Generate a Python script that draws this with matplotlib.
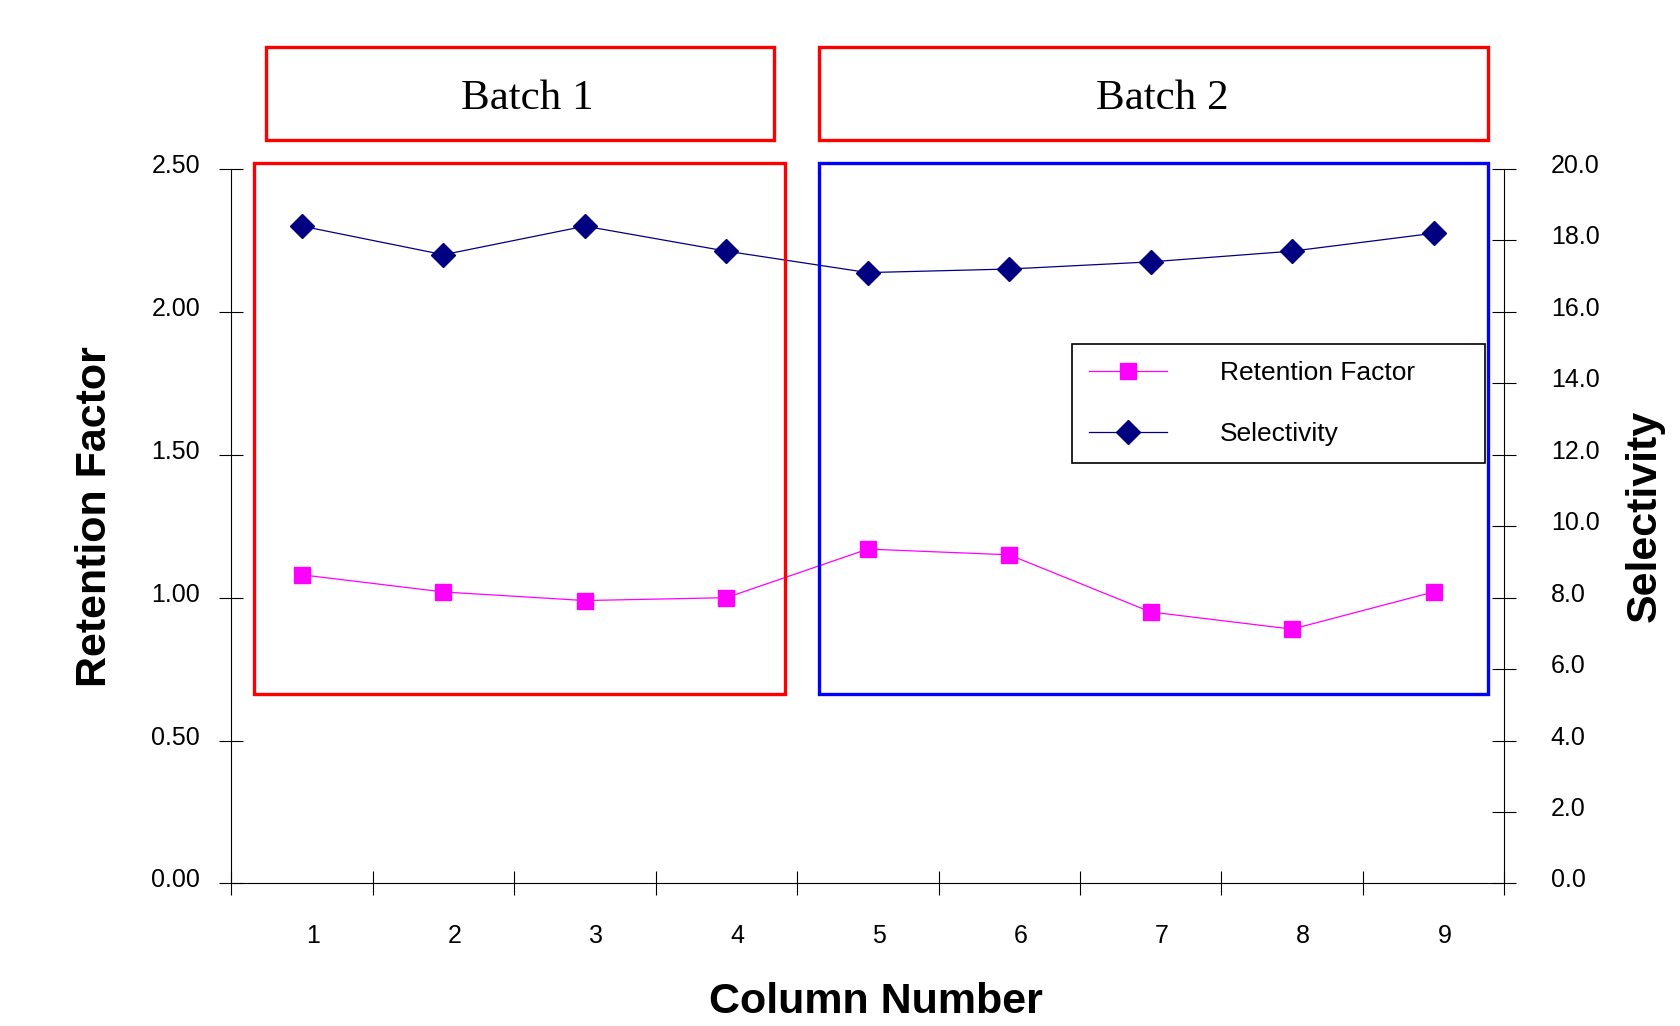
import matplotlib.pyplot as plt
import matplotlib.transforms as mtransforms
from matplotlib.patches import Rectangle
import numpy as np

plt.rcParams['font.family'] = ['Liberation Sans', 'DejaVu Sans']

# data
columns = ['1', '2', '3', '4', '5', '6', '7', '8', '9']
retention = [1.08, 1.02, 0.99, 1.00, 1.17, 1.15, 0.95, 0.89, 1.02]
selectivity = [18.4, 17.6, 18.4, 17.7, 17.1, 17.2, 17.4, 17.7, 18.2]
left_ticks = [0.0, 0.5, 1.0, 1.5, 2.0, 2.5]
right_ticks = [0, 2, 4, 6, 8, 10, 12, 14, 16, 18, 20]

magenta = '#FF00FF'
navy = '#000080'

fig = plt.figure(figsize=(16.8, 10.26), dpi=100)
ax = fig.add_axes([0.1377, 0.1389, 0.7577, 0.6964])
ax2 = ax.twinx()

x = np.arange(len(columns))
l1, = ax.plot(x, retention, color=magenta, lw=0.9, marker='s', ms=11.5,
              mec=magenta, mfc=magenta, label='Retention Factor', zorder=3)
l2, = ax2.plot(x, selectivity, color=navy, lw=0.9, marker='D', ms=12.5,
               mec=navy, mfc=navy, label='Selectivity', zorder=3)

ax.set_xlim(-0.5, len(columns) - 0.5)
ax.set_ylim(0, 2.5)
ax2.set_ylim(0, 20)

# category axis: marks on boundaries, labels in between
ax.set_xticks(x)
ax.set_xticklabels(columns, fontsize=18)
ax.set_xticks(np.arange(len(columns) + 1) - 0.5, minor=True)
ax.tick_params(axis='x', which='major', length=0, pad=29)
ax.tick_params(axis='x', which='minor', direction='inout', length=17, width=0.8)
shift = mtransforms.ScaledTranslation(0.11, 0, fig.dpi_scale_trans)
for lab in ax.get_xticklabels():
    lab.set_transform(lab.get_transform() + shift)

ax.set_yticks(left_ticks)
ax.set_yticklabels(['%.2f' % v for v in left_ticks], fontsize=18)
ax.tick_params(axis='y', direction='inout', length=17, width=0.8, pad=14)
ax2.set_yticks(right_ticks)
ax2.set_yticklabels(['%.1f' % v for v in right_ticks], fontsize=18)
ax2.tick_params(axis='y', direction='inout', length=17, width=0.8, pad=25)
up = mtransforms.ScaledTranslation(0, 0.055, fig.dpi_scale_trans)
for lab in ax.get_yticklabels() + ax2.get_yticklabels():
    lab.set_transform(lab.get_transform() + up)

for a in (ax, ax2):
    a.spines['top'].set_visible(False)
    for s in a.spines.values():
        s.set_linewidth(0.8)
ax.spines['right'].set_visible(False)
ax2.spines['left'].set_visible(False)
ax2.spines['bottom'].set_visible(False)

ax.set_ylabel('Retention Factor', fontsize=31, fontweight='bold', va='center')
ax.yaxis.set_label_coords(-0.107, 0.514)
ax2.set_ylabel('Selectivity', fontsize=31, fontweight='bold', va='center')
ax2.yaxis.set_label_coords(1.110, 0.514)
ax.set_xlabel('Column Number', fontsize=31, fontweight='bold', va='center')
ax.xaxis.set_label_coords(0.506, -0.166)

# batch boxes
fig.add_artist(Rectangle((0.1582, 0.8632), 0.3023, 0.0909, transform=fig.transFigure,
                         fill=False, ec='#FF0000', lw=2.4))
fig.add_artist(Rectangle((0.4873, 0.8632), 0.3985, 0.0909, transform=fig.transFigure,
                         fill=False, ec='#FF0000', lw=2.4))
fig.add_artist(Rectangle((0.1511, 0.3233), 0.3164, 0.5179, transform=fig.transFigure,
                         fill=False, ec='#FF0000', lw=2.4, zorder=5))
fig.add_artist(Rectangle((0.4873, 0.3233), 0.3985, 0.5179, transform=fig.transFigure,
                         fill=False, ec='#0000FF', lw=2.4, zorder=5))
fig.text(0.3138, 0.904, 'Batch 1', fontsize=31, family='Liberation Serif',
         ha='center', va='center')
fig.text(0.6920, 0.904, 'Batch 2', fontsize=31, family='Liberation Serif',
         ha='center', va='center')

leg = ax2.legend(handles=[l1, l2], loc='upper left', mode='expand',
                 bbox_to_anchor=(0.638, 0.5468, 0.246, 0.1179),
                 bbox_transform=fig.transFigure, fontsize=19, frameon=True,
                 fancybox=False, framealpha=1, edgecolor='black',
                 handlelength=2.95, handletextpad=2.0, labelspacing=1.4,
                 borderpad=0.65, borderaxespad=0)
leg.get_frame().set_linewidth(1.2)
leg.set_zorder(6)

fig.savefig('out.png', dpi=100)
